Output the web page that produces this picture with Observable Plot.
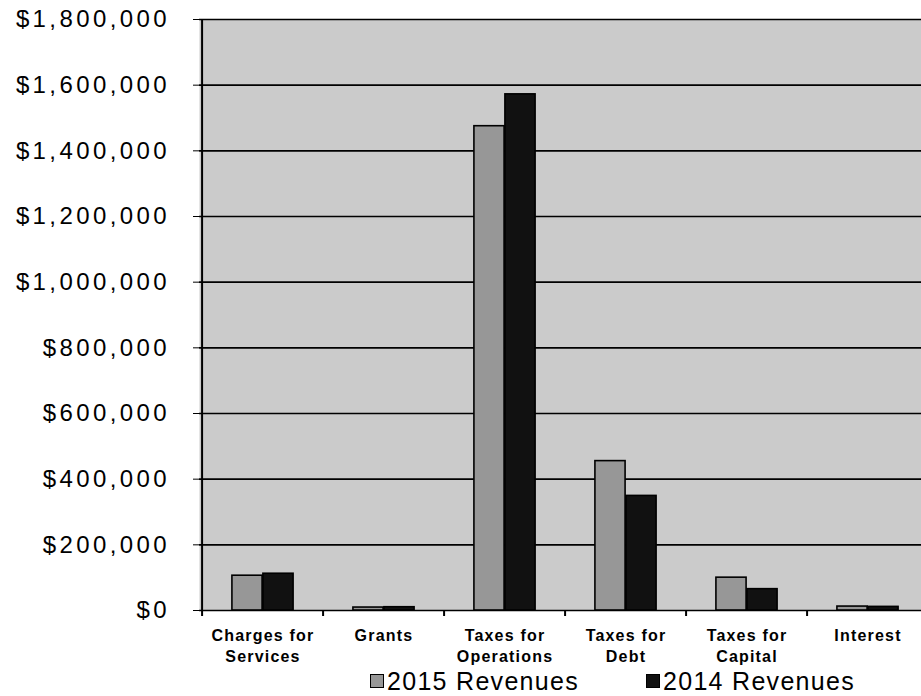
<!DOCTYPE html>
<html><head><meta charset="utf-8">
<script src="https://cdn.jsdelivr.net/npm/d3@7"></script>
<script src="https://cdn.jsdelivr.net/npm/@observablehq/plot@0.6"></script>
<style>
body{margin:0;background:#fff;font-family:"Liberation Sans",Arial,sans-serif;}
#wrap{position:relative;width:921px;height:696px;overflow:hidden;}
#wrap svg{position:absolute;left:0;top:0;}
g[aria-label="y-axis tick label"] text{letter-spacing:3.4px}
g[aria-label="x-axis tick label"] text{letter-spacing:1.2px;font-weight:bold}
.leg{position:absolute;top:666px;font-size:25px;letter-spacing:1.3px;display:flex;align-items:center;color:#000;line-height:30px}
.sw{width:14px;height:14px;border:1.5px solid #000;margin-right:3px;box-sizing:border-box}
</style></head><body><div id="wrap"></div>
<script>
const categories = ["Charges for Services", "Grants", "Taxes for Operations", "Taxes for Debt", "Taxes for Capital", "Interest"];
const tickLabels = ["Charges for\nServices", "Grants", "Taxes for\nOperations", "Taxes for\nDebt", "Taxes for\nCapital", "Interest"];
const rev2015 = [106000, 9000, 1475000, 455000, 100000, 12000];
const rev2014 = [112000, 10000, 1572000, 349000, 65000, 11000];
const yTicks = [0, 200000, 400000, 600000, 800000, 1000000, 1200000, 1400000, 1600000, 1800000];
const seriesNames = ["2015 Revenues", "2014 Revenues"];
const seriesColors = ["#979797", "#111111"];

const data2015 = categories.map((c, i) => ({category: c, value: rev2015[i]}));
const data2014 = categories.map((c, i) => ({category: c, value: rev2014[i]}));
const labelOf = new Map(categories.map((c, i) => [c, tickLabels[i]]));

const xRange = [199, 930];
const bw = (xRange[1] - xRange[0]) / categories.length;
const barW = 31;

const chart = Plot.plot({
  width: 921,
  height: 665,
  marginLeft: 199,
  marginRight: 0,
  marginTop: 19,
  marginBottom: 55,
  style: {fontFamily: '"Liberation Sans", Arial, sans-serif', color: "#000", background: "transparent"},
  x: {domain: categories, range: xRange, padding: 0},
  y: {domain: [0, 1800000]},
  marks: [
    Plot.frame({fill: "#cbcbcb", stroke: null}),
    Plot.ruleY(yTicks, {stroke: "#000", strokeWidth: 1.6}),
    Plot.barY(data2015, {x: "category", y: "value", fill: seriesColors[0], stroke: "#000", strokeWidth: 1.6,
      insetLeft: bw / 2 - barW, insetRight: bw / 2}),
    Plot.barY(data2014, {x: "category", y: "value", fill: seriesColors[1], stroke: "#000", strokeWidth: 1.6,
      insetLeft: bw / 2, insetRight: bw / 2 - barW}),
    Plot.ruleX(categories, {x: d => d, dx: -bw / 2, y1: (d, i) => i === 0 ? 1800000 : 0, y2: 0,
      insetBottom: -6, stroke: "#000", strokeWidth: 2}),
    Plot.axisY({ticks: yTicks, tickSize: 6, tickPadding: 23.5, fontSize: 24, label: null,
      tickFormat: d => "$" + d3.format(",")(d), stroke: "#000"}),
    Plot.axisX({tickSize: 0, tickPadding: 15, fontSize: 16, fontWeight: "bold", lineHeight: 1.35, label: null,
      tickFormat: d => labelOf.get(d)})
  ]
});
const wrap = document.getElementById("wrap");
wrap.appendChild(chart);

const legendX = [370, 646];
seriesNames.forEach((name, i) => {
  const item = document.createElement("div");
  item.className = "leg";
  item.style.left = legendX[i] + "px";
  const sw = document.createElement("span");
  sw.className = "sw";
  sw.style.background = seriesColors[i];
  const tx = document.createElement("span");
  tx.textContent = name;
  item.appendChild(sw);
  item.appendChild(tx);
  wrap.appendChild(item);
});
</script></body></html>
